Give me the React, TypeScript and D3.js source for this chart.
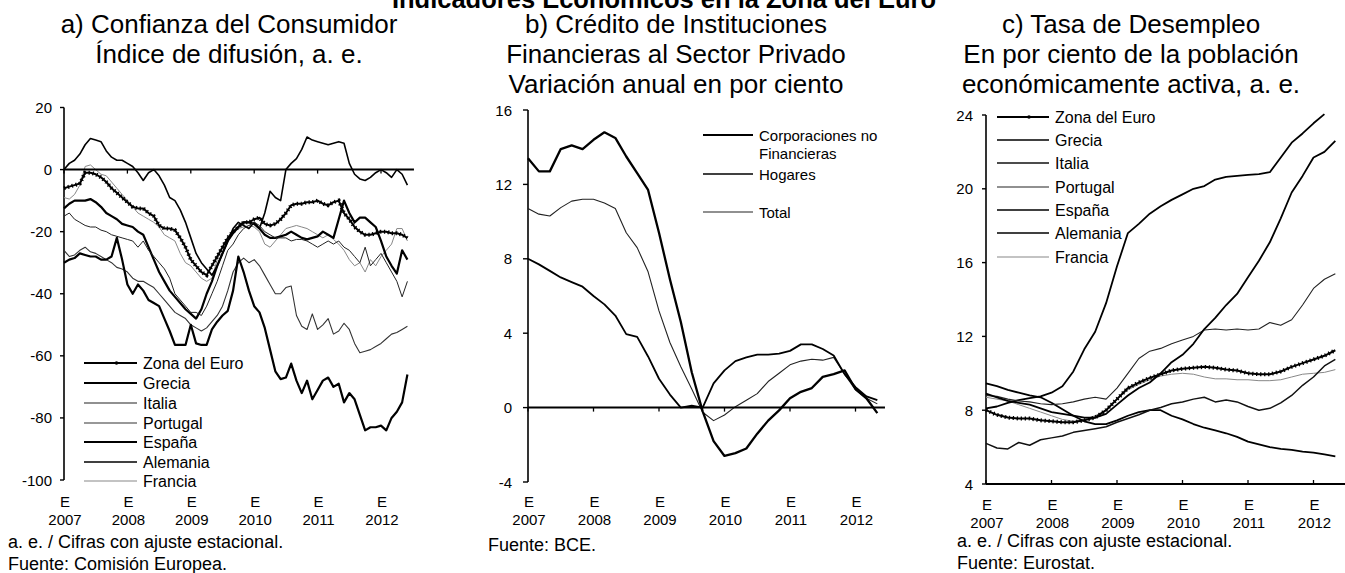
import React from 'react';
import * as d3 from 'd3';

const FONT = "'Liberation Sans', Arial, Helvetica, sans-serif";
const yearTicks = [2007, 2008, 2009, 2010, 2011, 2012];

// ---------- Panel a: Confianza del Consumidor (monthly, Jan 2007 – Jun 2012)
const aZona = [-6, -5.5, -5, -4.5, -1, -1, -1.5, -2.5, -4, -6, -7.5, -9, -10.5, -12, -12.5, -12.5, -14, -15, -18, -19, -19, -19.5, -22, -25, -29, -31, -33, -34, -31, -28, -25, -22, -20, -18.5, -17, -17, -16, -15.5, -17.5, -18, -17.5, -16, -14, -11.5, -11, -11, -10.5, -10.5, -10, -11, -11.5, -10.5, -10, -14, -16, -18.5, -20, -21, -21, -20.5, -20, -20, -20.5, -20.5, -21, -22];
const aGrecia = [-30, -29, -28.5, -27, -27.5, -28, -28, -29, -29, -28, -22, -29, -37, -40, -37, -39, -42, -43, -44, -48, -52, -56.5, -56.5, -56.5, -50, -56, -56.5, -56.5, -51.5, -49, -47, -45.5, -39, -28, -33, -39, -44, -46, -51, -58, -65, -67.5, -67, -62.5, -68, -72, -68, -74, -71, -68, -67, -70, -69, -75, -72, -74, -79, -84, -83, -83, -82.5, -84, -80, -78, -75, -66];
const aItalia = [-15, -14, -16, -17, -18, -18.5, -18.5, -19.5, -20, -21, -21.5, -22, -22.5, -23, -25, -23, -26, -28, -30, -32, -35, -40, -42, -44, -46, -46, -47, -44, -40, -36, -31, -26, -24, -21, -19, -18, -17, -18, -20, -21, -22, -22, -22, -23, -22.5, -22.5, -23, -24, -25, -24, -23, -24, -23, -25, -26, -28, -30, -25, -31, -29, -27, -30, -33, -36, -41, -36];
const aPortugal = [-26, -28, -27.5, -26, -25, -26.5, -27, -28, -29, -30, -31.5, -32, -33, -35, -36, -36, -37, -38, -40, -42, -44, -46, -47, -48, -50, -51, -52, -51, -49, -47, -44, -39, -33, -30, -28.5, -30, -29, -31, -34, -37, -40, -40, -38, -37.5, -47, -50.5, -51.5, -46.5, -51.5, -50, -48, -53, -52, -49.5, -51.5, -56, -59, -58.5, -58, -57, -56, -54.5, -53, -52.5, -51.5, -50.5];
const aEspana = [-12.5, -11, -10, -10, -10, -9.5, -10.5, -12, -14, -15, -16, -17.5, -18, -18.5, -20, -21, -25, -29, -33, -36, -39, -41, -43, -45, -46.5, -48, -45, -40, -36, -31, -27, -23, -20.5, -18.5, -17, -17, -17.5, -19, -21, -22, -22, -21.5, -21, -20, -21, -22, -22.5, -22, -21.5, -20, -21, -22, -16, -10, -14, -17, -15.5, -15.5, -17, -18.5, -23, -28, -31, -33.5, -26, -29];
const aAlemania = [0, 2, 3, 5, 8, 10, 9.5, 9, 6, 4, 3, 3, 2, 1, -1, -3.5, -1, 0, -2, -5, -9, -10, -13, -17, -22, -27, -30, -32, -34, -31, -27, -23, -19, -17, -18, -19, -17, -19, -14, -7, -9, -10, 0, 2, 3.5, 6.5, 10.5, 9.5, 9, 8.5, 8, 8.5, 9, 8.5, 2, -1.5, -3, -3.5, -2.5, -1, 0, -1, -2.5, 0, -1.5, -5];
const aFrancia = [-9, -9.5, -8, -5, 1, 1.5, 0, -1.5, -2, -4, -6, -8, -10, -12, -14, -15, -16, -17, -18.5, -21, -22, -23, -27, -30, -31, -33, -35, -36, -35, -29, -25, -22, -20, -19, -18.5, -18, -18.5, -20, -24, -25, -23, -21, -19, -18.5, -18, -18.5, -19, -20, -21, -22, -21, -22.5, -24, -26, -29, -31, -30, -33, -29, -31, -28, -26, -24, -19, -19, -23];
const aTicks = [20, 0, -20, -40, -60, -80, -100];

// ---------- Panel b: Crédito (every two months, Jan 2007 – May 2012)
const bCorporaciones = [13.4, 12.7, 12.7, 13.9, 14.1, 13.9, 14.4, 14.8, 14.5, 13.5, 12.6, 11.7, 9.4, 6.9, 4.6, 1.9, -0.2, -1.8, -2.6, -2.45, -2.2, -1.4, -0.7, -0.15, 0.5, 0.85, 1.05, 1.65, 1.8, 2.0, 1.0, 0.5, -0.3];
const bHogares = [8.0, 7.7, 7.35, 7.0, 6.75, 6.5, 6.0, 5.55, 4.95, 3.95, 3.8, 2.75, 1.55, 0.7, 0.0, 0.1, 0.0, 1.3, 2.0, 2.5, 2.7, 2.85, 2.85, 2.9, 3.05, 3.4, 3.4, 3.15, 2.8, 1.8, 1.1, 0.6, 0.4];
const bTotal = [10.7, 10.4, 10.3, 10.75, 11.1, 11.2, 11.2, 11.0, 10.7, 9.4, 8.6, 7.3, 5.2, 3.5, 2.2, 1.0, -0.25, -0.7, -0.4, 0.05, 0.4, 0.75, 1.4, 1.85, 2.3, 2.5, 2.6, 2.55, 2.7, 1.8, 0.95, 0.5, 0.2];
const bTicks = [16, 12, 8, 4, 0, -4];

// ---------- Panel c: Tasa de Desempleo (every two months, Jan 2007 – May 2012)
const cZona = [8.0, 7.75, 7.6, 7.55, 7.55, 7.45, 7.4, 7.35, 7.35, 7.45, 7.6, 8.0, 8.6, 9.2, 9.5, 9.75, 9.95, 10.15, 10.25, 10.3, 10.35, 10.3, 10.2, 10.15, 10.0, 9.95, 9.95, 10.1, 10.35, 10.55, 10.75, 10.95, 11.25];
const cGrecia = [8.9, 8.7, 8.5, 8.4, 8.3, 8.1, 7.9, 7.8, 7.7, 7.6, 7.6, 7.8, 8.3, 8.8, 9.2, 9.5, 10.0, 10.6, 11.0, 11.6, 12.4, 13.0, 13.7, 14.3, 15.2, 16.1, 17.1, 18.4, 19.8, 20.7, 21.7, 22.0, 22.6];
const cItalia = [6.2, 5.95, 5.9, 6.25, 6.1, 6.4, 6.5, 6.6, 6.8, 6.9, 7.0, 7.1, 7.35, 7.55, 7.75, 8.0, 8.15, 8.35, 8.45, 8.6, 8.7, 8.45, 8.55, 8.45, 8.2, 8.0, 8.1, 8.4, 8.8, 9.35, 9.8, 10.4, 10.75];
const cPortugal = [8.8, 8.75, 8.6, 8.5, 8.45, 8.35, 8.3, 8.35, 8.45, 8.6, 8.7, 8.6, 9.2, 10.0, 10.8, 11.2, 11.35, 11.6, 11.8, 12.0, 12.35, 12.4, 12.35, 12.4, 12.35, 12.4, 12.75, 12.6, 12.9, 13.7, 14.6, 15.1, 15.4];
const cEspana = [8.1, 8.2, 8.4, 8.55, 8.65, 8.75, 8.95, 9.3, 10.1, 11.3, 12.25, 13.8, 15.8, 17.6, 18.1, 18.65, 19.05, 19.4, 19.7, 20.0, 20.15, 20.5, 20.65, 20.7, 20.75, 20.8, 20.9, 21.7, 22.5, 23.0, 23.55, 24.05];
const cAlemania = [9.45, 9.3, 9.1, 8.95, 8.8, 8.7, 8.4, 8.05, 7.7, 7.4, 7.25, 7.25, 7.45, 7.7, 7.9, 8.0, 8.0, 7.7, 7.5, 7.25, 7.05, 6.9, 6.75, 6.55, 6.3, 6.15, 6.0, 5.9, 5.85, 5.75, 5.7, 5.6, 5.5];
const cFrancia = [8.7, 8.6, 8.5, 8.3, 8.1, 7.9, 7.7, 7.5, 7.4, 7.5, 7.7, 8.0, 8.6, 9.1, 9.4, 9.65, 9.85, 9.95, 10.0, 9.95, 9.8, 9.7, 9.7, 9.65, 9.65, 9.6, 9.6, 9.65, 9.8, 9.95, 10.0, 10.05, 10.2];
const cTicks = [24, 20, 16, 12, 8, 4];

type Series = {
  name: string;
  values: number[];
  step: number;
  width: number;
  color: string;
  beaded?: boolean;
};

const countries = ['Zona del Euro', 'Grecia', 'Italia', 'Portugal', 'España', 'Alemania', 'Francia'];

const seriesA: Series[] = [
  { name: countries[0], values: aZona, step: 1, width: 2, color: '#000', beaded: true },
  { name: countries[1], values: aGrecia, step: 1, width: 2.2, color: '#000' },
  { name: countries[2], values: aItalia, step: 1, width: 1, color: '#222' },
  { name: countries[3], values: aPortugal, step: 1, width: 1.1, color: '#333' },
  { name: countries[4], values: aEspana, step: 1, width: 2.2, color: '#000' },
  { name: countries[5], values: aAlemania, step: 1, width: 1.6, color: '#000' },
  { name: countries[6], values: aFrancia, step: 1, width: 1, color: '#888' },
];

const seriesB: Series[] = [
  { name: 'Corporaciones', values: bCorporaciones, step: 2, width: 2.3, color: '#000' },
  { name: 'Hogares', values: bHogares, step: 2, width: 1.8, color: '#000' },
  { name: 'Total', values: bTotal, step: 2, width: 1.1, color: '#222' },
];

const seriesC: Series[] = [
  { name: countries[0], values: cZona, step: 2, width: 2, color: '#000', beaded: true },
  { name: countries[1], values: cGrecia, step: 2, width: 1.8, color: '#000' },
  { name: countries[2], values: cItalia, step: 2, width: 1.5, color: '#111' },
  { name: countries[3], values: cPortugal, step: 2, width: 1.1, color: '#222' },
  { name: countries[4], values: cEspana, step: 2, width: 1.8, color: '#000' },
  { name: countries[5], values: cAlemania, step: 2, width: 1.8, color: '#000' },
  { name: countries[6], values: cFrancia, step: 2, width: 1, color: '#888' },
];

function SeriesPath({ s, x, y }: { s: Series; x: any; y: any }) {
  const line = d3
    .line<number>()
    .x((_, i) => x(2007 + (i * s.step) / 12))
    .y((v) => y(v));
  const d = line(s.values) || '';
  return (
    <g>
      <path d={d} fill="none" stroke={s.color} strokeWidth={s.width} strokeLinejoin="round" />
      {s.beaded && (
        <path d={d} fill="none" stroke={s.color} strokeWidth={4} strokeDasharray="1.3 2.7" />
      )}
    </g>
  );
}

function YAxis({ y, ticks, x0, labelX, tickLen }: { y: any; ticks: number[]; x0: number; labelX: number; tickLen: number }) {
  const [lo, hi] = y.domain();
  return (
    <g>
      <line x1={x0} x2={x0} y1={y(hi)} y2={y(lo)} stroke="#000" strokeWidth={1.6} />
      {ticks.map((t) => (
        <g key={t}>
          <line x1={x0 - tickLen} x2={x0} y1={y(t)} y2={y(t)} stroke="#000" strokeWidth={1.4} />
          <text x={labelX} y={y(t) + 5.5} textAnchor="end" fontSize={15} fontFamily={FONT}>
            {t}
          </text>
        </g>
      ))}
    </g>
  );
}

function XAxis({ x, yLine, x2, dir, eY, yearY }: { x: any; yLine: number; x2: number; dir: number; eY: number; yearY: number }) {
  return (
    <g>
      <line x1={x(2007)} x2={x2} y1={yLine} y2={yLine} stroke="#000" strokeWidth={2} />
      {yearTicks.map((t) => (
        <g key={t}>
          <line x1={x(t)} x2={x(t)} y1={yLine} y2={yLine + dir * 4} stroke="#000" strokeWidth={1.3} />
          <text x={x(t) + 1} y={eY} textAnchor="middle" fontSize={15} fontFamily={FONT}>
            E
          </text>
          <text x={x(t) + 1} y={yearY} textAnchor="middle" fontSize={15} fontFamily={FONT}>
            {t}
          </text>
        </g>
      ))}
    </g>
  );
}

function LegendRow({ s, x1, x2, yy, label, fontSize }: { s: Series; x1: number; x2: number; yy: number; label: string; fontSize: number }) {
  return (
    <g>
      <line x1={x1} x2={x2} y1={yy} y2={yy} stroke={s.color} strokeWidth={Math.max(1.2, s.width * 0.9)} />
      {s.beaded && <circle cx={(x1 + x2) / 2 + 6} cy={yy} r={1.8} fill="#000" />}
      <text x={x2 + 6} y={yy + 5.5} fontSize={fontSize} fontFamily={FONT}>
        {label}
      </text>
    </g>
  );
}

function TitleLines({ lines, cx, y0 }: { lines: string[]; cx: number; y0: number }) {
  return (
    <g>
      {lines.map((l, i) => (
        <text key={i} x={cx} y={y0 + i * 30} textAnchor="middle" fontSize={26} fontFamily={FONT}>
          {l}
        </text>
      ))}
    </g>
  );
}

export default function App() {
  // Panel a scales
  const xA = d3.scaleLinear().domain([2007, 2012.52]).range([64, 64 + 5.52 * 63.4]);
  const yA = d3.scaleLinear().domain([-100, 20]).range([480, 107.5]);
  // Panel b scales
  const xB = d3.scaleLinear().domain([2007, 2012.45]).range([528, 528 + 5.45 * 65.5]);
  const yB = d3.scaleLinear().domain([-4, 16]).range([482, 110]);
  // Panel c scales
  const xC = d3.scaleLinear().domain([2007, 2012.55]).range([986, 986 + 5.55 * 65.5]);
  const yC = d3.scaleLinear().domain([4, 24]).range([484, 115]);

  const legA = [363, 383, 403, 423, 442, 462, 481];
  const legC = [117, 140, 163, 187, 210, 233, 257];

  return (
    <svg
      width={1345}
      height={573}
      style={{ position: 'absolute', left: 0, top: 0, background: '#fff' }}
    >
      <rect x={0} y={0} width={1345} height={573} fill="#fff" />
      <text x={664} y={8} textAnchor="middle" fontSize={25.5} fontWeight="bold" fontFamily={FONT}>
        Indicadores Económicos en la Zona del Euro
      </text>

      {/* Panel a */}
      <TitleLines lines={['a) Confianza del Consumidor', 'Índice de difusión, a. e.']} cx={229} y0={33} />
      <YAxis y={yA} ticks={aTicks} x0={64} labelX={52} tickLen={4} />
      {seriesA.slice().reverse().map((s) => (
        <SeriesPath key={s.name} s={s} x={xA} y={yA} />
      ))}
      <XAxis x={xA} yLine={yA(0)} x2={xA(2012.52)} dir={1} eY={507} yearY={525} />
      {seriesA.map((s, i) => (
        <LegendRow key={s.name} s={s} x1={84} x2={137} yy={legA[i]} label={s.name} fontSize={16} />
      ))}
      <text x={8} y={548} fontSize={18} fontFamily={FONT}>a. e. / Cifras con ajuste estacional.</text>
      <text x={8} y={570} fontSize={18} fontFamily={FONT}>Fuente: Comisión Europea.</text>

      {/* Panel b */}
      <TitleLines
        lines={['b) Crédito de Instituciones', 'Financieras al Sector Privado', 'Variación anual en por ciento']}
        cx={676}
        y0={33}
      />
      <YAxis y={yB} ticks={bTicks} x0={528} labelX={512} tickLen={5} />
      {seriesB.slice().reverse().map((s) => (
        <SeriesPath key={s.name} s={s} x={xB} y={yB} />
      ))}
      <XAxis x={xB} yLine={yB(0)} x2={xB(2012.45)} dir={1} eY={507} yearY={525} />
      <LegendRow s={seriesB[0]} x1={703} x2={753} yy={135} label="Corporaciones no" fontSize={15} />
      <text x={759} y={159} fontSize={15} fontFamily={FONT}>Financieras</text>
      <LegendRow s={seriesB[1]} x1={703} x2={753} yy={174} label="Hogares" fontSize={15} />
      <LegendRow s={seriesB[2]} x1={703} x2={753} yy={212} label="Total" fontSize={15} />
      <text x={488} y={551} fontSize={18} fontFamily={FONT}>Fuente: BCE.</text>

      {/* Panel c */}
      <TitleLines
        lines={['c) Tasa de Desempleo', 'En por ciento de la población', 'económicamente activa, a. e.']}
        cx={1131}
        y0={33}
      />
      <YAxis y={yC} ticks={cTicks} x0={986} labelX={973} tickLen={4} />
      {seriesC.slice().reverse().map((s) => (
        <SeriesPath key={s.name} s={s} x={xC} y={yC} />
      ))}
      <XAxis x={xC} yLine={yC(4)} x2={1345} dir={-1} eY={510} yearY={528} />
      {seriesC.map((s, i) => (
        <LegendRow key={s.name} s={s} x1={997} x2={1049} yy={legC[i]} label={s.name} fontSize={16} />
      ))}
      <text x={957} y={547} fontSize={18} fontFamily={FONT}>a. e. / Cifras con ajuste estacional.</text>
      <text x={957} y={569} fontSize={18} fontFamily={FONT}>Fuente: Eurostat.</text>
    </svg>
  );
}
